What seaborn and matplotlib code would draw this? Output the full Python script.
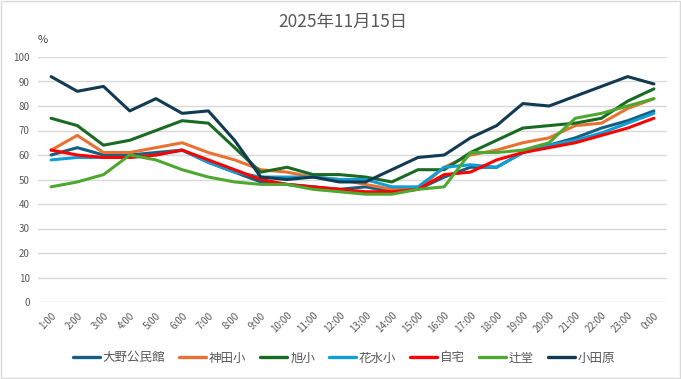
"""
Hourly percentage by site, 2025-11-15.
"""
import matplotlib
matplotlib.use("Agg")
import matplotlib.pyplot as plt
import seaborn as sns
import pandas as pd

hours = [f"{h}:00" for h in range(1, 24)] + ["0:00"]

ohno = [60, 63, 60, 60, 61, 62, 57, 53, 49, 48, 47, 46, 47, 45, 46, 51, 55, 55, 61, 64, 67, 71, 74, 78]
kanda = [62, 68, 61, 61, 63, 65, 61, 58, 54, 53, 51, 50, 48, 46, 46, 55, 60, 62, 65, 67, 72, 73, 79, 83]
asahi = [75, 72, 64, 66, 70, 74, 73, 63, 53, 55, 52, 52, 51, 49, 54, 54, 61, 66, 71, 72, 73, 75, 82, 87]
hanamizu = [58, 59, 59, 59, 60, 62, 57, 53, 51, 51, 51, 50, 50, 47, 47, 55, 56, 55, 61, 64, 66, 69, 73, 77]
jitaku = [62, 60, 59, 59, 60, 62, 58, 54, 50, 48, 47, 46, 45, 45, 46, 52, 53, 58, 61, 63, 65, 68, 71, 75]
tsujido = [47, 49, 52, 60, 58, 54, 51, 49, 48, 48, 46, 45, 44, 44, 46, 47, 61, 61, 62, 65, 75, 77, 80, 83]
odawara = [92, 86, 88, 78, 83, 77, 78, 66, 51, 50, 51, 49, 49, 54, 59, 60, 67, 72, 81, 80, 84, 88, 92, 89]

series = {
    "大野公民館": ohno,
    "神田小": kanda,
    "旭小": asahi,
    "花水小": hanamizu,
    "自宅": jitaku,
    "辻堂": tsujido,
    "小田原": odawara,
}
colors = ["#156082", "#E97132", "#196B24", "#0F9ED5", "#FF0000", "#4EA72E", "#123A52"]

rows = []
for name, vals in series.items():
    for i, v in enumerate(vals):
        rows.append({"hour": i, "site": name, "value": v})
df = pd.DataFrame(rows)

sns.set_style("white")
plt.rcParams["font.family"] = ["Noto Sans CJK JP", "DejaVu Sans"]

fig = plt.figure(figsize=(6.81, 3.79), dpi=100)
ax = fig.add_axes([38 / 681, 1 - 302 / 379, 629 / 681, 245 / 379])

sns.lineplot(data=df, x="hour", y="value", hue="site", palette=colors,
             hue_order=list(series.keys()), linewidth=2.2, ax=ax, legend=False)

ax.set_xlim(-0.5, len(hours) - 0.5)
ax.set_ylim(0, 100)
ax.set_yticks(range(0, 101, 10))
ax.set_xticks(range(len(hours)))
ax.set_xticklabels(hours, rotation=45, ha="right", rotation_mode="anchor")
ax.tick_params(axis="both", length=0, labelsize=7, labelcolor="#595959")
ax.tick_params(axis="x", pad=6)
ax.tick_params(axis="y", pad=6)
ax.grid(axis="y", color="#D9D9D9", linewidth=1)
ax.set_axisbelow(True)
for s in ax.spines.values():
    s.set_visible(False)
ax.set_xlabel("")
ax.set_ylabel("")

fig.text(43 / 681, 1 - 40 / 379, "%", fontsize=8, color="#404040", ha="center", va="center")
fig.text(343 / 681, 1 - 22 / 379, "2025年11月15日", fontsize=12.5, color="#595959",
         ha="center", va="center")

handles = [plt.Line2D([], [], color=c, linewidth=2.4) for c in colors]
fig.legend(handles, list(series.keys()), loc="center", ncol=7, frameon=False,
           bbox_to_anchor=(344 / 681, 1 - 358 / 379), fontsize=9,
           handlelength=2.15, handletextpad=0.25, columnspacing=1.1,
           labelcolor="#595959")

fig.patches.append(plt.Rectangle((0.001, 0.002), 0.997, 0.996, transform=fig.transFigure,
                                 fill=False, edgecolor="#D9D9D9", linewidth=1))

fig.savefig("out.png", dpi=100)
plt.close(fig)
